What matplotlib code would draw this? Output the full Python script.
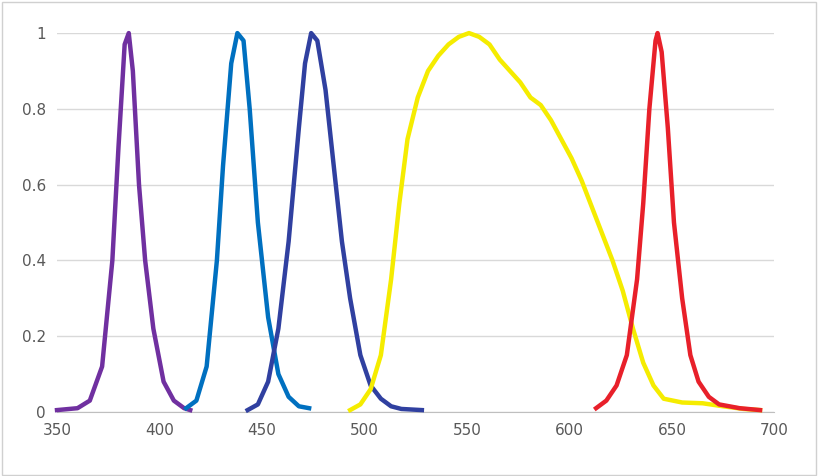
import numpy as np
import matplotlib
matplotlib.use("Agg")
import matplotlib.pyplot as plt
from matplotlib.patches import Rectangle

# wavelength (nm) / relative intensity
violet_x = [350, 360, 366, 372, 377, 380, 383, 385, 387, 390, 393, 397, 402, 407, 412, 415]
violet_y = [0.005, 0.01, 0.03, 0.12, 0.4, 0.7, 0.97, 1.0, 0.9, 0.6, 0.4, 0.22, 0.08, 0.03, 0.01, 0.005]
blue_x = [413, 418, 423, 428, 431, 435, 438, 441, 444, 448, 453, 458, 463, 468, 473]
blue_y = [0.01, 0.03, 0.12, 0.4, 0.65, 0.92, 1.0, 0.98, 0.8, 0.5, 0.25, 0.1, 0.04, 0.015, 0.01]
navy_x = [443, 448, 453, 458, 463, 468, 471, 474, 477, 481, 485, 489, 493, 498, 503, 508, 513, 518, 528]
navy_y = [0.005, 0.02, 0.08, 0.22, 0.45, 0.75, 0.92, 1.0, 0.98, 0.85, 0.65, 0.45, 0.3, 0.15, 0.07, 0.035, 0.015, 0.008, 0.005]
yellow_x = [493, 498, 503, 508, 513, 517, 521, 526, 531, 536, 541, 546, 551, 556, 561, 566, 571, 576,
            581, 586, 591, 596, 601, 606, 611, 616, 621, 626, 631, 636, 641, 646, 655, 665, 675, 685, 693]
yellow_y = [0.005, 0.02, 0.06, 0.15, 0.35, 0.55, 0.72, 0.83, 0.9, 0.94, 0.97, 0.99, 1.0, 0.99, 0.97, 0.93, 0.9, 0.87,
            0.83, 0.81, 0.77, 0.72, 0.67, 0.61, 0.54, 0.47, 0.4, 0.32, 0.22, 0.13, 0.07, 0.035, 0.025, 0.023, 0.015, 0.008, 0.005]
red_x = [613, 618, 623, 628, 633, 636, 639, 642, 643, 645, 648, 651, 655, 659, 663, 668, 673, 683, 693]
red_y = [0.01, 0.03, 0.07, 0.15, 0.35, 0.55, 0.8, 0.98, 1.0, 0.95, 0.75, 0.5, 0.3, 0.15, 0.08, 0.04, 0.02, 0.01, 0.005]

series = [(violet_x, violet_y, "#7030A0"), (blue_x, blue_y, "#0070C0"),
          (navy_x, navy_y, "#3040A0"), (yellow_x, yellow_y, "#F5EC00"),
          (red_x, red_y, "#E8202A")]

fig = plt.figure(figsize=(8.18, 4.76), dpi=100)
ax = fig.add_axes([0.0697, 0.1345, 0.877, 0.796])
for x, y, c in series:
    ax.plot(x, y, color=c, lw=3.2, clip_on=False, zorder=3, solid_joinstyle="round")

ax.set_xlim(350, 700)
ax.set_ylim(0, 1)
ax.set_xticks(range(350, 701, 50))
ax.set_yticks([0, 0.2, 0.4, 0.6, 0.8, 1])
ax.set_yticklabels(["0", "0.2", "0.4", "0.6", "0.8", "1"])
ax.grid(axis="y", color="#D9D9D9", lw=1)
ax.set_axisbelow(True)
for s in ["top", "right", "left"]:
    ax.spines[s].set_visible(False)
ax.spines["bottom"].set_color("#BFBFBF")
ax.tick_params(length=0, colors="#595959", labelsize=11, pad=8)

fig.patches.append(Rectangle((0.003, 0.003), 0.994, 0.992, transform=fig.transFigure,
                             fill=False, edgecolor="#D0D0D0", lw=1))
fig.savefig("out.png", dpi=100)
